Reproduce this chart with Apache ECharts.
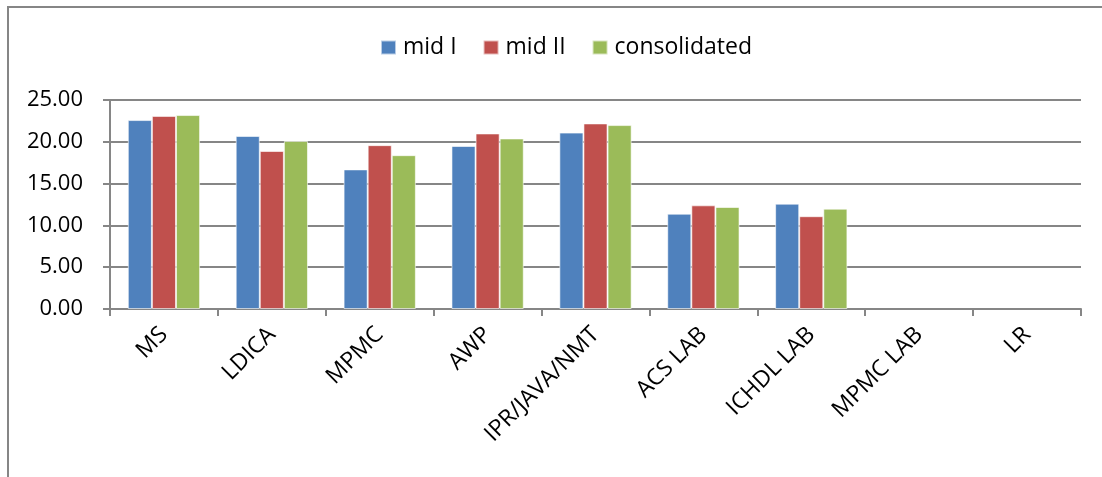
<!DOCTYPE html>
<html>
<head>
<meta charset="utf-8">
<script src="https://cdn.jsdelivr.net/npm/echarts@6/dist/echarts.min.js"></script>
<style>
  html, body { margin: 0; padding: 0; background: #fff; }
  #chart { width: 1102px; height: 477px; }
</style>
</head>
<body>
<div id="chart"></div>
<script>
// subjects on the x axis
var categories = ["MS", "LDICA", "MPMC", "AWP", "IPR/JAVA/NMT", "ACS LAB", "ICHDL LAB", "MPMC LAB", "LR"];
// marks per series
var midI = [22.6, 20.7, 16.7, 19.5, 21.1, 11.4, 12.6, null, null];
var midII = [23.1, 18.9, 19.6, 21.0, 22.2, 12.4, 11.1, null, null];
var consolidated = [23.2, 20.1, 18.4, 20.4, 22.0, 12.2, 12.0, null, null];
var yTicks = [0, 5, 10, 15, 20, 25];

var FONT = "Open Sans";
var GRID_COLOR = "#868686";

function barSeries(name, color, data) {
  return {
    name: name,
    type: "bar",
    data: data,
    barGap: "0%",
    barCategoryGap: "33%",
    itemStyle: {
      color: color,
      borderColor: "rgba(255,255,255,0.6)",
      borderWidth: 1,
    },
  };
}

var myChart = echarts.init(document.getElementById("chart"), null, { renderer: "canvas" });
myChart.setOption({
  animation: false,
  backgroundColor: "#fff",
  textStyle: { fontFamily: FONT },
  graphic: [
    {
      type: "rect",
      shape: { x: 8, y: 7, width: 1200, height: 600 },
      style: { fill: "none", stroke: GRID_COLOR, lineWidth: 2 },
      silent: true,
    },
  ],
  legend: {
    top: 31,
    left: 375,
    itemWidth: 15,
    itemHeight: 14,
    itemGap: 26,
    icon: "rect",
    textStyle: { fontFamily: FONT, fontSize: 23, color: "#000", padding: [0, 0, 0, 2] },
    data: ["mid I", "mid II", "consolidated"],
  },
  grid: {
    left: 110,
    right: 21,
    top: 100,
    bottom: 168,
    containLabel: false,
  },
  xAxis: {
    type: "category",
    data: categories,
    axisLine: { show: true, lineStyle: { color: GRID_COLOR, width: 2 } },
    axisTick: { show: true, alignWithLabel: false, length: 7, lineStyle: { color: GRID_COLOR, width: 2 } },
    axisLabel: {
      interval: 0,
      rotate: 45,
      margin: 22,
      fontFamily: FONT,
      fontSize: 23,
      color: "#000",
    },
  },
  yAxis: {
    type: "value",
    min: yTicks[0],
    max: yTicks[yTicks.length - 1],
    interval: yTicks[1] - yTicks[0],
    axisLine: { show: true, lineStyle: { color: GRID_COLOR, width: 2 } },
    axisTick: { show: true, length: 7, lineStyle: { color: GRID_COLOR, width: 2 } },
    splitLine: { show: true, lineStyle: { color: GRID_COLOR, width: 2 } },
    axisLabel: {
      margin: 27,
      fontFamily: FONT,
      fontSize: 22,
      color: "#000",
      formatter: function (v) {
        return v.toFixed(2);
      },
    },
  },
  series: [
    barSeries("mid I", "#4F81BD", midI),
    barSeries("mid II", "#C0504D", midII),
    barSeries("consolidated", "#9BBB59", consolidated),
  ],
});
</script>
</body>
</html>
